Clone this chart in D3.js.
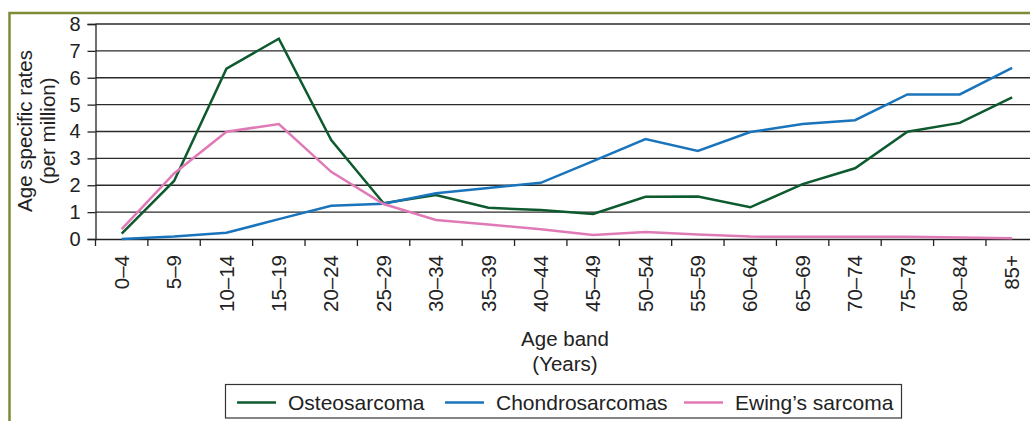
<!DOCTYPE html>
<html>
<head>
<meta charset="utf-8">
<script src="https://cdn.jsdelivr.net/npm/d3@7"></script>
<style>
  body { margin: 0; background: #fff; }
  svg { display: block; font-family: "Liberation Sans", Arial, sans-serif; }
</style>
</head>
<body>
<script>
// age bands along the x axis
var ageBands = ["0\u20134", "5\u20139", "10\u201314", "15\u201319", "20\u201324", "25\u201329", "30\u201334",
  "35\u201339", "40\u201344", "45\u201349", "50\u201354", "55\u201359", "60\u201364", "65\u201369",
  "70\u201374", "75\u201379", "80\u201384", "85+"];

var osteosarcoma = [0.2, 2.16, 6.34, 7.45, 3.68, 1.33, 1.64, 1.16, 1.08, 0.93, 1.57, 1.58, 1.18, 2.04, 2.63, 3.99, 4.32, 5.27];
var chondrosarcomas = [0, 0.09, 0.23, 0.74, 1.24, 1.31, 1.7, 1.9, 2.09, 2.9, 3.72, 3.28, 3.98, 4.28, 4.42, 5.38, 5.38, 6.37];
var ewings = [0.37, 2.44, 3.99, 4.28, 2.5, 1.3, 0.71, 0.54, 0.36, 0.15, 0.26, 0.17, 0.09, 0.08, 0.08, 0.08, 0.06, 0.03];

var yTicks = [0, 1, 2, 3, 4, 5, 6, 7, 8];

var series = [
  {name: "Osteosarcoma", values: osteosarcoma, color: "#0d5a2e"},
  {name: "Chondrosarcomas", values: chondrosarcomas, color: "#1a74bc"},
  {name: "Ewing\u2019s sarcoma", values: ewings, color: "#e07ab7"}
];

var width = 1030, height = 421;
var textColor = "#222";

var svg = d3.select("body").append("svg")
    .attr("width", width)
    .attr("height", height);

// olive frame, top and left edges
svg.append("path")
    .attr("d", "M9.5,421 V13 H1030")
    .attr("fill", "none")
    .attr("stroke", "#7d8b37")
    .attr("stroke-width", 2.5);

var x = d3.scaleBand()
    .domain(ageBands)
    .range([95.5, 95.5 + 18 * 52.38]);

var y = d3.scaleLinear()
    .domain([0, 8])
    .range([239, 24]);

// gridlines
svg.append("g")
    .selectAll("line")
    .data(yTicks.slice(1))
    .enter().append("line")
    .attr("x1", 95.5)
    .attr("x2", width)
    .attr("y1", function(d) { return y(d); })
    .attr("y2", function(d) { return y(d); })
    .attr("stroke", "#2b2b2b")
    .attr("stroke-width", 1.3);

// y axis
var yAxis = svg.append("g")
    .attr("transform", "translate(95.5,0)")
    .call(d3.axisLeft(y).tickValues(yTicks).tickSize(8).tickPadding(7));
yAxis.selectAll("text")
    .attr("font-size", 20)
    .attr("font-family", "Liberation Sans, Arial, sans-serif")
    .attr("fill", textColor);
yAxis.selectAll("line, path").attr("stroke", textColor).attr("stroke-width", 1.3);

// x axis
var xAxis = svg.append("g")
    .attr("transform", "translate(0,239)")
    .call(d3.axisBottom(x).tickSize(0).tickSizeOuter(0));
xAxis.select(".domain").attr("stroke", textColor).attr("stroke-width", 1.5);
xAxis.selectAll("text")
    .attr("font-size", 20.5)
    .attr("font-family", "Liberation Sans, Arial, sans-serif")
    .attr("fill", textColor)
    .attr("text-anchor", "end")
    .attr("dy", "0.35em")
    .attr("transform", "translate(0,16) rotate(-90)")
    .attr("x", 0)
    .attr("y", 0);

// tick marks at band boundaries
svg.append("g")
    .selectAll("line")
    .data(ageBands)
    .enter().append("line")
    .attr("x1", function(d) { return x(d); })
    .attr("x2", function(d) { return x(d); })
    .attr("y1", 239)
    .attr("y2", 246)
    .attr("stroke", textColor)
    .attr("stroke-width", 1.3);

// lines
var line = d3.line()
    .x(function(d, i) { return x(ageBands[i]) + x.bandwidth() / 2; })
    .y(function(d) { return y(d); });

svg.append("g")
    .selectAll("path")
    .data(series)
    .enter().append("path")
    .attr("d", function(d) { return line(d.values); })
    .attr("fill", "none")
    .attr("stroke", function(d) { return d.color; })
    .attr("stroke-width", 2.5)
    .attr("stroke-linejoin", "miter");

// axis titles
svg.append("text")
    .attr("transform", "translate(27,131) rotate(-90)")
    .attr("text-anchor", "middle")
    .attr("font-size", 20.5)
    .attr("fill", textColor)
    .selectAll("tspan")
    .data(["Age specific rates", "(per million)"])
    .enter().append("tspan")
    .attr("x", 0)
    .attr("dy", function(d, i) { return i ? 23 : 5; })
    .text(function(d) { return d; });

svg.append("text")
    .attr("text-anchor", "middle")
    .attr("font-size", 20.5)
    .attr("fill", textColor)
    .selectAll("tspan")
    .data(["Age band", "(Years)"])
    .enter().append("tspan")
    .attr("x", 565)
    .attr("y", function(d, i) { return 346 + i * 25; })
    .text(function(d) { return d; });

// legend
svg.append("rect")
    .attr("x", 225.5)
    .attr("y", 384.5)
    .attr("width", 676)
    .attr("height", 33.5)
    .attr("fill", "#fff")
    .attr("stroke", "#333")
    .attr("stroke-width", 1.2);

var legendX = [237, 445, 684];
var leg = svg.append("g")
    .selectAll("g")
    .data(series)
    .enter().append("g")
    .attr("transform", function(d, i) { return "translate(" + legendX[i] + ",402.5)"; });
leg.append("line")
    .attr("x1", 0).attr("x2", 39)
    .attr("stroke", function(d) { return d.color; })
    .attr("stroke-width", 2.5);
leg.append("text")
    .attr("x", 51)
    .attr("dy", "0.35em")
    .attr("font-size", 21)
    .attr("fill", textColor)
    .text(function(d) { return d.name; });
</script>
</body>
</html>
